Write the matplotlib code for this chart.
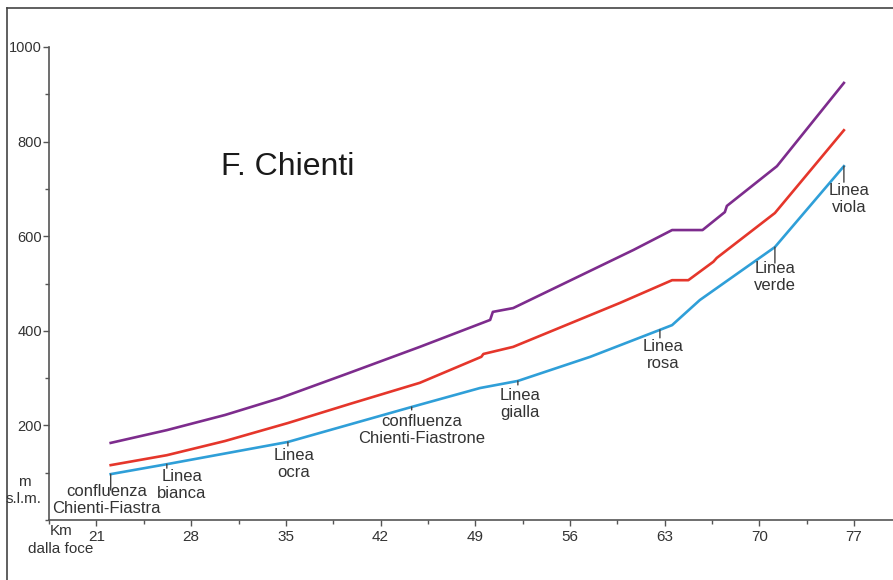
"""
Profilo longitudinale del F. Chienti: quote delle linee di terrazzo
lungo il corso del fiume (km dalla foce vs m s.l.m.).
"""

import numpy as np
import matplotlib.pyplot as plt
from matplotlib.ticker import MultipleLocator

plt.rcParams["font.family"] = ["Liberation Sans", "DejaVu Sans"]

# --- data --------------------------------------------------------------
km_viola = [22.05, 26.2, 30.5, 34.6, 39.5, 44.9, 50.1, 50.3, 51.8, 60.7, 63.55, 65.8, 67.45, 67.6, 71.3, 76.25]
el_viola = [163, 190, 222, 258, 309, 366, 423, 440, 448, 571, 613, 613, 651, 664, 748, 924]

km_rosso = [22.05, 26.2, 30.5, 35.15, 39.8, 44.9, 49.45, 49.6, 51.8, 59.7, 63.55, 64.75, 66.6, 66.85, 71.15, 76.25]
el_rosso = [116, 137, 167, 205, 246, 290, 345, 351, 366, 459, 507, 507, 546, 554, 649, 824]

km_azzurro = [22.05, 26.2, 35.15, 44.3, 49.35, 52.15, 57.5, 62.65, 63.55, 65.6, 71.15, 76.25]
el_azzurro = [97, 118, 165, 239, 279, 294, 345, 402, 412, 465, 577, 748]

label_km = [22.05, 26.2, 35.15, 44.3, 52.15, 62.65, 71.15, 76.25]
label_txt = [
    "confluenza\nChienti-Fiastra",
    "Linea\nbianca",
    "Linea\nocra",
    "confluenza\nChienti-Fiastrone",
    "Linea\ngialla",
    "Linea\nrosa",
    "Linea\nverde",
    "Linea\nviola",
]

x_ticks = [21, 28, 35, 42, 49, 56, 63, 70, 77]
y_ticks = [200, 400, 600, 800, 1000]

# --- layout (pixel offsets of tick end and text centre from the line) ---
tick_len = [16, 4, 4, 3, 4, 8, 16, 16]
text_dx = [-4, 15, 6, 10, 2, 3, 0, 5]
text_dy = [-26, -21, -22, -23, -23, -25, -30, -33]

C_VIOLA = "#7d2c8d"
C_ROSSO = "#e5362b"
C_AZZURRO = "#2f9fd8"
C_TEXT = "#333333"
C_AXIS = "#555555"


def main():
    fig = plt.figure(figsize=(8.93, 5.80), dpi=100)
    ax = fig.add_axes([49 / 893, 60 / 580, 844 / 893, 473 / 580])
    ax.set_xlim(17.49, 79.88)
    ax.set_ylim(0, 1000)

    for km, el, c in [(km_viola, el_viola, C_VIOLA),
                      (km_rosso, el_rosso, C_ROSSO),
                      (km_azzurro, el_azzurro, C_AZZURRO)]:
        ax.plot(km, el, color=c, lw=1.9, solid_joinstyle="round", zorder=3)

    # label ticks hanging from the lowest line
    for k, txt, tl, dx, dy in zip(label_km, label_txt, tick_len, text_dx, text_dy):
        yv = np.interp(k, km_azzurro, el_azzurro)
        ax.annotate("", xy=(k, yv), xytext=(0, -tl), textcoords="offset pixels",
                    arrowprops=dict(arrowstyle="-", color="#444444", lw=1.0,
                                    shrinkA=0, shrinkB=0))
        ax.annotate(txt, xy=(k, yv), xytext=(dx, dy), textcoords="offset pixels",
                    ha="center", va="center", fontsize=12, color=C_TEXT,
                    linespacing=1.2)

    ax.text((288 - 49) / 844, 1 - (167 - 47) / 473, "F. Chienti",
            transform=ax.transAxes, ha="center", va="center",
            fontsize=23, color="#1a1a1a")

    for side in ["top", "right"]:
        ax.spines[side].set_visible(False)
    for side in ["left", "bottom"]:
        ax.spines[side].set_color(C_AXIS)
        ax.spines[side].set_linewidth(1.2)

    ax.set_xticks(x_ticks)
    ax.set_yticks(y_ticks)
    ax.xaxis.set_minor_locator(MultipleLocator(3.5))
    ax.yaxis.set_minor_locator(MultipleLocator(100))
    ax.tick_params(which="both", direction="out", color=C_AXIS, width=1.0,
                   labelsize=10.5, labelcolor=C_TEXT)
    ax.tick_params(which="major", length=4)
    ax.tick_params(which="minor", length=3)
    ax.tick_params(axis="y", which="major", pad=1)
    ax.tick_params(axis="x", which="major", pad=3, labelsize=11)

    # axis captions
    fig.text(24 / 893, 1 - 482 / 580, "m", ha="center", va="center",
             fontsize=11, color=C_TEXT)
    fig.text(24 / 893, 1 - 499 / 580, "s.l.m.", ha="center", va="center",
             fontsize=11, color=C_TEXT)
    fig.text(61 / 893, 1 - 531 / 580, "Km", ha="center", va="center",
             fontsize=11, color=C_TEXT)
    fig.text(61 / 893, 1 - 549 / 580, "dalla foce", ha="center", va="center",
             fontsize=11, color=C_TEXT)

    # thin frame around the figure (left and top visible)
    fig.add_artist(plt.Line2D([7 / 893, 7 / 893], [0, 1 - 8 / 580],
                              transform=fig.transFigure, color="#444444", lw=1.2))
    fig.add_artist(plt.Line2D([7 / 893, 1], [1 - 8 / 580, 1 - 8 / 580],
                              transform=fig.transFigure, color="#444444", lw=1.2))

    fig.savefig("out.png", dpi=100)


if __name__ == "__main__":
    main()
